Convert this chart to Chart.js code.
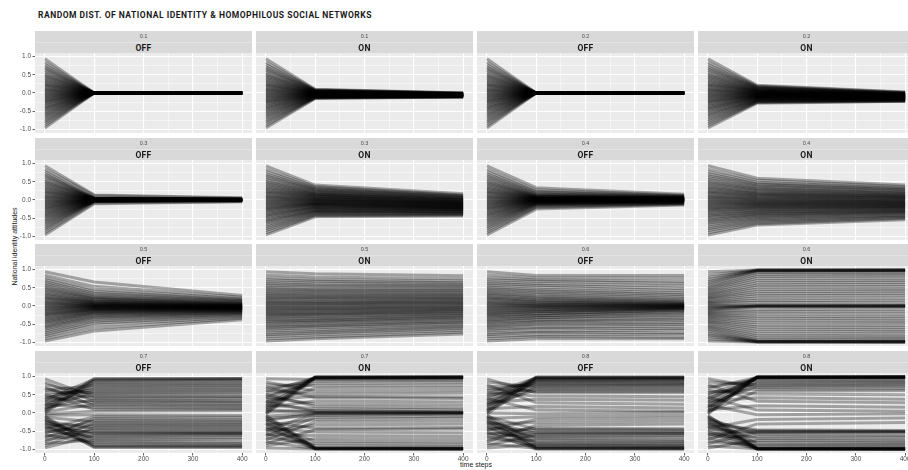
<!DOCTYPE html>
<html>
<head>
<meta charset="utf-8">
<script src="https://cdn.jsdelivr.net/npm/chart.js@4.4.0/dist/chart.umd.min.js"></script>
<style>
  html, body { margin: 0; padding: 0; background: #fff; width: 908px; height: 470px; overflow: hidden; }
  #wrap { position: relative; width: 908px; height: 470px; font-family: 'Liberation Sans', Arial, sans-serif; }
  .title { position: absolute; left: 38px; top: 10px; font: bold 8.5px Roboto, sans-serif; letter-spacing: 0.5px; color: #1a1a1a; white-space: nowrap; }
  .strip { position: absolute; width: 217px; height: 22px; background: #d9d9d9; }
  .strip .val { position: absolute; left: 0; top: 0; width: 100%; height: 11px; line-height: 11px; text-align: center; font-size: 5.5px; color: #4d4d4d; border-bottom: 1px solid #e3e3e3; }
  .strip .lab { position: absolute; left: 0; top: 12px; width: 100%; height: 10px; line-height: 10px; text-align: center; font: bold 8.5px Roboto, sans-serif; letter-spacing: 0.3px; color: #1a1a1a; }
  canvas { position: absolute; }
  .ytitle { position: absolute; left: -46px; top: 243px; width: 120px; text-align: center; font-size: 7px; color: #1a1a1a; transform: rotate(-90deg); white-space: nowrap; }
  .xtitle { position: absolute; left: 426px; top: 461px; width: 100px; text-align: center; font-size: 7px; color: #1a1a1a; }
</style>
</head>
<body>
<div id="wrap">
  <div class="title">RANDOM DIST. OF NATIONAL IDENTITY &amp; HOMOPHILOUS SOCIAL NETWORKS</div>
  <div class="ytitle">National identity attitudes</div>
  <div class="xtitle">time steps</div>
</div>
<script>
// time steps at which each agent's attitude is shown
const timeSteps = [0, 100, 400];
const xTickValues = [0, 100, 200, 300, 400];
const xTickLabels = ['0', '100', '200', '300', '400'];
const xMinorValues = [50, 150, 250, 350];
const yTickValues = [-1, -0.5, 0, 0.5, 1];
const yTickLabels = ['-1.0', '-0.5', '0.0', '0.5', '1.0'];
const yMinorValues = [-0.75, -0.25, 0.25, 0.75];

// facet labels
const stripValues = ['0.1', '0.1', '0.2', '0.2', '0.3', '0.3', '0.4', '0.4',
                     '0.5', '0.5', '0.6', '0.6', '0.7', '0.7', '0.8', '0.8'];
const stripLabels = ['OFF', 'ON', 'OFF', 'ON', 'OFF', 'ON', 'OFF', 'ON',
                     'OFF', 'ON', 'OFF', 'ON', 'OFF', 'ON', 'OFF', 'ON'];

// initial attitudes (same random draw in every panel)
const startValues = [-0.96,-0.90,-0.84,-0.79,-0.74,-0.69,-0.64,-0.60,-0.56,-0.52,-0.48,-0.44,
  -0.41,-0.37,-0.34,-0.30,-0.27,-0.24,-0.21,-0.18,-0.15,-0.12,-0.09,-0.06,
  -0.03,0.00,0.03,0.06,0.09,0.12,0.15,0.19,0.22,0.25,0.29,0.32,
  0.36,0.40,0.44,0.48,0.52,0.57,0.62,0.67,0.72,0.78,0.85,0.94];

// attitudes at t = 100 and t = 400, one array per panel
const off01_t100 = [0,0,0,0,0,0,0,0,0,0,0,0, 0,0,0,0,0,0,0,0,0,0,0,0,
  0,0,0,0,0,0,0,0,0,0,0,0, 0,0,0,0,0,0,0,0,0,0,0,0];
const off01_t400 = [0,0,0,0,0,0,0,0,0,0,0,0, 0,0,0,0,0,0,0,0,0,0,0,0,
  0,0,0,0,0,0,0,0,0,0,0,0, 0,0,0,0,0,0,0,0,0,0,0,0];
const on01_t100 = [-0.15,-0.14,-0.13,-0.13,-0.12,-0.11,-0.11,-0.10,-0.10,-0.09,-0.09,-0.08,
  -0.08,-0.07,-0.07,-0.06,-0.06,-0.06,-0.05,-0.05,-0.04,-0.04,-0.04,-0.03,
  -0.03,-0.02,-0.02,-0.02,-0.01,-0.01,0.00,0.00,0.00,0.01,0.01,0.02,
  0.02,0.03,0.03,0.04,0.04,0.05,0.06,0.06,0.07,0.08,0.09,0.10];
const on01_t400 = [-0.11,-0.11,-0.10,-0.10,-0.10,-0.10,-0.09,-0.09,-0.09,-0.09,-0.08,-0.08,
  -0.08,-0.08,-0.08,-0.07,-0.07,-0.07,-0.07,-0.07,-0.06,-0.06,-0.06,-0.06,
  -0.06,-0.05,-0.05,-0.05,-0.05,-0.05,-0.05,-0.04,-0.04,-0.04,-0.04,-0.04,
  -0.03,-0.03,-0.03,-0.03,-0.02,-0.02,-0.02,-0.01,-0.01,-0.01,0.00,0.00];
const off02_t100 = [0,0,0,0,0,0,0,0,0,0,0,0, 0,0,0,0,0,0,0,0,0,0,0,0,
  0,0,0,0,0,0,0,0,0,0,0,0, 0,0,0,0,0,0,0,0,0,0,0,0];
const off02_t400 = [0,0,0,0,0,0,0,0,0,0,0,0, 0,0,0,0,0,0,0,0,0,0,0,0,
  0,0,0,0,0,0,0,0,0,0,0,0, 0,0,0,0,0,0,0,0,0,0,0,0];
const on02_t100 = [-0.28,-0.26,-0.25,-0.24,-0.22,-0.21,-0.20,-0.19,-0.18,-0.17,-0.15,-0.14,
  -0.14,-0.13,-0.12,-0.11,-0.10,-0.09,-0.08,-0.08,-0.07,-0.06,-0.05,-0.05,
  -0.04,-0.03,-0.02,-0.01,-0.01,0.00,0.01,0.02,0.03,0.04,0.05,0.05,
  0.06,0.07,0.08,0.09,0.11,0.12,0.13,0.14,0.16,0.17,0.19,0.21];
const on02_t400 = [-0.23,-0.23,-0.22,-0.21,-0.20,-0.20,-0.19,-0.18,-0.18,-0.17,-0.17,-0.16,
  -0.16,-0.15,-0.15,-0.14,-0.14,-0.13,-0.13,-0.13,-0.12,-0.12,-0.11,-0.11,
  -0.10,-0.10,-0.10,-0.09,-0.09,-0.08,-0.08,-0.07,-0.07,-0.07,-0.06,-0.06,
  -0.05,-0.04,-0.04,-0.03,-0.03,-0.02,-0.01,-0.01,0.00,0.01,0.02,0.03];
const off03_t100 = [-0.10,-0.08,-0.04,-0.04,-0.03,-0.03,-0.03,-0.03,-0.02,-0.02,-0.02,-0.02,
  -0.01,-0.01,-0.01,-0.01,-0.01,0.00,0.00,0.00,0.00,0.00,0.00,0.01,
  0.01,0.01,0.01,0.01,0.02,0.02,0.02,0.02,0.02,0.03,0.03,0.03,
  0.03,0.03,0.04,0.04,0.04,0.04,0.05,0.05,0.05,0.06,0.12,0.14];
const off03_t400 = [-0.05,-0.04,-0.02,-0.02,-0.02,-0.01,-0.01,-0.01,-0.01,-0.01,-0.01,-0.01,
  -0.01,0.00,0.00,0.00,0.00,0.00,0.00,0.00,0.00,0.00,0.00,0.00,
  0.00,0.01,0.01,0.01,0.01,0.01,0.01,0.01,0.01,0.01,0.01,0.02,
  0.02,0.02,0.02,0.02,0.02,0.02,0.02,0.02,0.02,0.03,0.05,0.06];
const on03_t100 = [-0.46,-0.43,-0.41,-0.38,-0.36,-0.34,-0.31,-0.30,-0.28,-0.26,-0.24,-0.22,
  -0.21,-0.19,-0.18,-0.16,-0.14,-0.13,-0.12,-0.10,-0.09,-0.08,-0.06,-0.05,
  -0.03,-0.02,-0.01,0.01,0.02,0.04,0.05,0.07,0.08,0.10,0.11,0.13,
  0.15,0.16,0.18,0.20,0.22,0.24,0.27,0.29,0.31,0.34,0.37,0.41];
const on03_t400 = [-0.44,-0.42,-0.40,-0.38,-0.37,-0.35,-0.33,-0.32,-0.31,-0.30,-0.28,-0.27,
  -0.26,-0.25,-0.24,-0.23,-0.22,-0.21,-0.20,-0.19,-0.18,-0.17,-0.16,-0.15,
  -0.14,-0.13,-0.12,-0.11,-0.10,-0.09,-0.08,-0.07,-0.06,-0.05,-0.04,-0.03,
  -0.01,0.00,0.01,0.02,0.04,0.05,0.07,0.08,0.10,0.12,0.14,0.17];
const off04_t100 = [-0.25,-0.21,-0.18,-0.16,-0.14,-0.12,-0.11,-0.10,-0.09,-0.08,-0.07,-0.06,
  -0.05,-0.05,-0.04,-0.03,-0.03,-0.02,-0.02,-0.01,-0.01,0.00,0.00,0.01,
  0.01,0.02,0.02,0.03,0.03,0.04,0.04,0.05,0.05,0.06,0.07,0.07,
  0.08,0.09,0.10,0.11,0.12,0.14,0.16,0.18,0.21,0.24,0.28,0.34];
const off04_t400 = [-0.14,-0.12,-0.10,-0.09,-0.08,-0.07,-0.06,-0.05,-0.05,-0.04,-0.04,-0.03,
  -0.03,-0.02,-0.02,-0.02,-0.01,-0.01,-0.01,0.00,0.00,0.00,0.01,0.01,
  0.01,0.02,0.02,0.02,0.02,0.03,0.03,0.03,0.03,0.04,0.04,0.04,
  0.05,0.05,0.05,0.06,0.06,0.07,0.08,0.09,0.10,0.11,0.13,0.16];
const on04_t100 = [-0.69,-0.65,-0.61,-0.58,-0.54,-0.51,-0.48,-0.45,-0.42,-0.39,-0.37,-0.34,
  -0.32,-0.29,-0.27,-0.24,-0.22,-0.20,-0.18,-0.16,-0.14,-0.12,-0.10,-0.08,
  -0.06,-0.04,-0.02,0.00,0.02,0.04,0.06,0.09,0.11,0.13,0.16,0.18,
  0.20,0.23,0.26,0.29,0.31,0.35,0.38,0.42,0.45,0.49,0.54,0.60];
const on04_t400 = [-0.54,-0.51,-0.48,-0.46,-0.43,-0.41,-0.38,-0.36,-0.34,-0.32,-0.30,-0.28,
  -0.27,-0.25,-0.23,-0.21,-0.20,-0.18,-0.17,-0.15,-0.14,-0.12,-0.11,-0.09,
  -0.08,-0.06,-0.05,-0.03,-0.02,0.00,0.02,0.04,0.05,0.07,0.09,0.10,
  0.12,0.14,0.16,0.18,0.20,0.23,0.25,0.28,0.30,0.33,0.37,0.41];
const off05_t100 = [-0.69,-0.61,-0.53,-0.47,-0.42,-0.37,-0.33,-0.30,-0.27,-0.24,-0.21,-0.19,
  -0.17,-0.15,-0.14,-0.12,-0.10,-0.09,-0.08,-0.07,-0.05,-0.04,-0.03,-0.02,
  -0.01,0.00,0.01,0.02,0.03,0.04,0.05,0.07,0.08,0.09,0.11,0.13,
  0.14,0.17,0.19,0.21,0.24,0.27,0.31,0.35,0.40,0.46,0.54,0.66];
const off05_t400 = [-0.38,-0.34,-0.30,-0.27,-0.24,-0.22,-0.20,-0.18,-0.17,-0.15,-0.14,-0.13,
  -0.12,-0.11,-0.10,-0.09,-0.08,-0.08,-0.07,-0.07,-0.06,-0.05,-0.05,-0.04,
  -0.04,-0.03,-0.03,-0.02,-0.02,-0.01,-0.01,0.00,0.01,0.01,0.02,0.03,
  0.04,0.05,0.06,0.07,0.09,0.11,0.13,0.15,0.17,0.20,0.24,0.29];
const on05_t100 = [-0.90,-0.85,-0.79,-0.74,-0.70,-0.65,-0.60,-0.56,-0.53,-0.49,-0.45,-0.41,
  -0.39,-0.35,-0.32,-0.28,-0.25,-0.23,-0.20,-0.17,-0.14,-0.11,-0.08,-0.06,
  -0.03,0.00,0.03,0.06,0.08,0.11,0.14,0.18,0.21,0.24,0.27,0.30,
  0.34,0.38,0.41,0.45,0.49,0.54,0.58,0.63,0.68,0.73,0.80,0.89];
const on05_t400 = [-0.77,-0.72,-0.67,-0.62,-0.58,-0.54,-0.50,-0.46,-0.43,-0.40,-0.36,-0.33,
  -0.30,-0.27,-0.25,-0.21,-0.19,-0.16,-0.14,-0.11,-0.09,-0.06,-0.04,-0.01,
  0.01,0.04,0.07,0.09,0.12,0.14,0.17,0.20,0.22,0.25,0.28,0.31,
  0.34,0.38,0.41,0.44,0.48,0.52,0.56,0.60,0.64,0.69,0.75,0.83];
const off06_t100 = [-0.90,-0.84,-0.80,-0.72,-0.70,-0.62,-0.60,-0.52,-0.50,-0.44,-0.42,-0.38,
  -0.33,-0.32,-0.27,-0.26,-0.22,-0.20,-0.16,-0.15,-0.12,-0.10,-0.07,-0.05,
  -0.03,-0.01,0.01,0.03,0.05,0.07,0.10,0.12,0.15,0.18,0.21,0.25,
  0.28,0.33,0.37,0.42,0.46,0.52,0.57,0.62,0.68,0.72,0.78,0.84];
const off06_t400 = [-0.90,-0.86,-0.78,-0.74,-0.66,-0.62,-0.55,-0.50,-0.46,-0.40,-0.36,-0.31,
  -0.26,-0.22,-0.18,-0.15,-0.12,-0.10,-0.08,-0.07,-0.06,-0.05,-0.04,-0.03,
  -0.02,-0.01,0.00,0.01,0.02,0.03,0.04,0.05,0.07,0.09,0.11,0.14,
  0.17,0.21,0.26,0.31,0.36,0.42,0.48,0.55,0.62,0.68,0.76,0.84];
const on06_t100 = [-0.99,-0.99,-0.98,-0.98,-0.97,-0.96,-0.92,-0.87,-0.82,-0.76,-0.70,-0.64,
  -0.58,-0.52,-0.46,-0.40,-0.34,-0.28,-0.22,-0.16,-0.10,-0.03,-0.01,0.00,
  0.00,0.01,0.03,0.10,0.16,0.22,0.28,0.34,0.40,0.46,0.52,0.58,
  0.64,0.70,0.76,0.82,0.87,0.92,0.96,0.97,0.98,0.98,0.99,0.99];
const on06_t400 = [-0.99,-0.99,-0.99,-0.98,-0.98,-0.97,-0.93,-0.88,-0.83,-0.77,-0.71,-0.65,
  -0.59,-0.53,-0.47,-0.41,-0.35,-0.29,-0.22,-0.15,-0.08,-0.02,-0.01,0.00,
  0.00,0.01,0.02,0.08,0.15,0.22,0.29,0.35,0.41,0.47,0.53,0.59,
  0.65,0.71,0.77,0.83,0.88,0.93,0.97,0.98,0.98,0.99,0.99,0.99];
const off07_t100 = [-0.62,-0.40,-0.74,-0.28,-0.55,-0.15,-0.48,-0.82,-0.20,-0.36,-0.66,-0.10,
  -0.52,-0.86,-0.32,-0.93,-0.58,-0.70,-0.44,-0.95,-0.78,-0.24,-0.90,-0.05,
  0.05,0.88,0.24,0.95,0.60,0.80,0.36,0.91,0.68,0.15,0.84,0.48,
  0.93,0.72,0.28,0.64,0.10,0.56,0.76,0.40,0.20,0.52,0.32,0.44];
const off07_t400 = [-0.60,-0.42,-0.72,-0.30,-0.55,-0.18,-0.50,-0.84,-0.22,-0.38,-0.62,-0.12,
  -0.54,-0.88,-0.34,-0.93,-0.56,-0.68,-0.46,-0.95,-0.80,-0.26,-0.91,-0.07,
  0.06,0.90,0.22,0.95,0.62,0.82,0.34,0.93,0.70,0.14,0.86,0.47,
  0.95,0.74,0.27,0.65,0.11,0.57,0.78,0.40,0.19,0.53,0.31,0.44];
const on07_t100 = [-0.99,-0.70,-0.46,-0.98,-0.25,-0.84,-0.12,-0.62,-0.97,-0.33,-0.03,-0.90,
  -0.52,-0.99,-0.18,-0.78,-0.98,-0.42,-0.01,-0.97,-0.07,-0.96,0.00,-0.95,
  0.95,0.99,0.07,0.98,0.02,0.97,0.33,0.99,0.12,0.68,0.96,0.04,
  0.46,0.98,0.25,0.82,0.18,0.97,0.52,0.88,0.42,0.75,0.60,0.92];
const on07_t400 = [-0.99,-0.72,-0.44,-0.99,-0.22,-0.86,-0.09,-0.64,-0.98,-0.30,-0.01,-0.92,
  -0.54,-0.99,-0.14,-0.80,-0.99,-0.40,0.00,-0.98,-0.03,-0.97,0.00,-0.96,
  0.96,0.99,0.03,0.99,0.01,0.98,0.30,0.99,0.08,0.70,0.97,0.02,
  0.44,0.99,0.22,0.84,0.14,0.98,0.54,0.90,0.40,0.77,0.62,0.93];
const off08_t100 = [-0.86,-0.59,-0.97,-0.34,-0.75,-0.53,-0.92,-0.41,-0.67,-0.99,-0.18,-0.79,
  -0.49,-0.96,-0.63,-0.26,-0.89,-0.56,-0.98,-0.71,-0.10,-0.94,-0.45,-0.83,
  0.91,-0.02,0.98,0.74,0.95,0.18,0.86,0.99,0.63,0.93,0.38,0.80,
  0.97,0.08,0.89,0.67,0.96,0.47,0.83,0.59,0.77,0.28,0.71,0.55];
const off08_t400 = [-0.88,-0.57,-0.98,-0.30,-0.77,-0.54,-0.93,-0.43,-0.66,-0.99,-0.14,-0.80,
  -0.50,-0.97,-0.62,-0.22,-0.90,-0.56,-0.98,-0.72,-0.06,-0.95,-0.46,-0.84,
  0.92,0.02,0.98,0.76,0.96,0.14,0.87,0.99,0.64,0.94,0.35,0.81,
  0.97,0.05,0.90,0.68,0.97,0.45,0.84,0.60,0.78,0.24,0.72,0.56];
const on08_t100 = [-0.75,-0.99,-0.53,-0.89,-0.30,-0.98,-0.65,-0.49,-0.99,-0.80,-0.97,-0.55,
  -0.18,-0.99,-0.70,-0.46,-0.98,-0.93,-0.51,-0.99,-0.60,-0.97,-0.85,-0.98,
  0.99,0.98,0.60,0.99,0.20,0.97,0.86,0.99,-0.05,0.74,0.98,0.42,
  0.99,0.94,0.08,0.82,0.97,0.65,0.52,0.98,0.90,0.32,0.78,0.70];
const on08_t400 = [-0.77,-0.99,-0.52,-0.90,-0.26,-0.99,-0.66,-0.50,-0.99,-0.82,-0.98,-0.54,
  -0.14,-0.99,-0.72,-0.48,-0.99,-0.94,-0.51,-0.99,-0.62,-0.98,-0.86,-0.99,
  0.99,0.99,0.62,0.99,0.16,0.98,0.87,0.99,-0.02,0.76,0.99,0.38,
  0.99,0.95,0.05,0.84,0.98,0.67,0.50,0.99,0.91,0.28,0.80,0.72];

const valuesAt100 = [off01_t100, on01_t100, off02_t100, on02_t100, off03_t100, on03_t100, off04_t100, on04_t100,
  off05_t100, on05_t100, off06_t100, on06_t100, off07_t100, on07_t100, off08_t100, on08_t100];
const valuesAt400 = [off01_t400, on01_t400, off02_t400, on02_t400, off03_t400, on03_t400, off04_t400, on04_t400,
  off05_t400, on05_t400, off06_t400, on06_t400, off07_t400, on07_t400, off08_t400, on08_t400];

// facet grid geometry
const colLeft = [35, 256, 477, 698];
const stripTop = [31, 138, 244, 351];
const panelW = 217, panelH = 80, stripH = 22;
const M = 8;

const panelBg = {
  id: 'panelBg',
  beforeDraw(chart) {
    const { ctx, chartArea: a } = chart;
    ctx.save();
    ctx.fillStyle = '#ebebeb';
    ctx.fillRect(a.left, a.top, a.width, a.height);
    ctx.restore();
  }
};

const wrap = document.getElementById('wrap');

stripValues.forEach((val, idx) => {
  const row = Math.floor(idx / 4), col = idx % 4;
  const showY = col === 0, showX = row === 3;

  const strip = document.createElement('div');
  strip.className = 'strip';
  strip.style.left = colLeft[col] + 'px';
  strip.style.top = stripTop[row] + 'px';
  strip.innerHTML = '<div class="val">' + val + '</div><div class="lab">' + stripLabels[idx] + '</div>';
  wrap.appendChild(strip);

  const yw = showY ? 35 : 0, xh = showX ? 12 : 0;
  const canvas = document.createElement('canvas');
  canvas.width = panelW + yw + 2 * M;
  canvas.height = panelH + xh + 2 * M;
  canvas.style.left = (colLeft[col] - yw - M) + 'px';
  canvas.style.top = (stripTop[row] + stripH - M) + 'px';
  wrap.appendChild(canvas);

  const mid = valuesAt100[idx], end = valuesAt400[idx];
  const datasets = startValues.map((s, i) => ({
    data: [{ x: timeSteps[0], y: s }, { x: timeSteps[1], y: mid[i] }, { x: timeSteps[2], y: end[i] }],
    borderColor: 'rgba(0,0,0,0.32)',
    borderWidth: 3,
    pointRadius: 0,
    tension: 0,
    fill: false
  }));

  const tickFont = { family: 'Liberation Sans', size: 6.5 };
  new Chart(canvas, {
    type: 'line',
    data: { datasets },
    plugins: [panelBg],
    options: {
      animation: false,
      responsive: false,
      events: [],
      layout: { padding: M },
      plugins: { legend: { display: false }, tooltip: { enabled: false } },
      scales: {
        x: {
          type: 'linear', min: -20, max: 420,
          afterBuildTicks: s => { s.ticks = xTickValues.concat(xMinorValues).map(v => ({ value: v })); },
          afterFit: s => { s.height = xh; },
          border: { display: false },
          grid: {
            color: '#ffffff',
            lineWidth: c => xTickValues.includes(c.tick.value) ? 1.1 : 0.5,
            drawTicks: showX,
            tickLength: 2.5,
            tickWidth: 0.8,
            tickColor: c => xTickValues.includes(c.tick.value) ? '#333333' : 'rgba(0,0,0,0)'
          },
          ticks: {
            display: showX, autoSkip: false, maxRotation: 0, padding: 0,
            font: tickFont, color: '#4d4d4d',
            callback: v => { const k = xTickValues.indexOf(v); return k >= 0 ? xTickLabels[k] : ''; }
          }
        },
        y: {
          type: 'linear', min: -1.1, max: 1.1,
          afterBuildTicks: s => { s.ticks = yTickValues.concat(yMinorValues).map(v => ({ value: v })); },
          afterFit: s => { s.width = yw; },
          border: { display: false },
          grid: {
            color: '#ffffff',
            lineWidth: c => yTickValues.includes(c.tick.value) ? 1.1 : 0.5,
            drawTicks: showY,
            tickLength: 2.5,
            tickWidth: 0.8,
            tickColor: c => yTickValues.includes(c.tick.value) ? '#333333' : 'rgba(0,0,0,0)'
          },
          ticks: {
            display: showY, autoSkip: false, padding: 1.5,
            font: tickFont, color: '#4d4d4d',
            callback: v => { const k = yTickValues.indexOf(v); return k >= 0 ? yTickLabels[k] : ''; }
          }
        }
      }
    }
  });
});
</script>
</body>
</html>
